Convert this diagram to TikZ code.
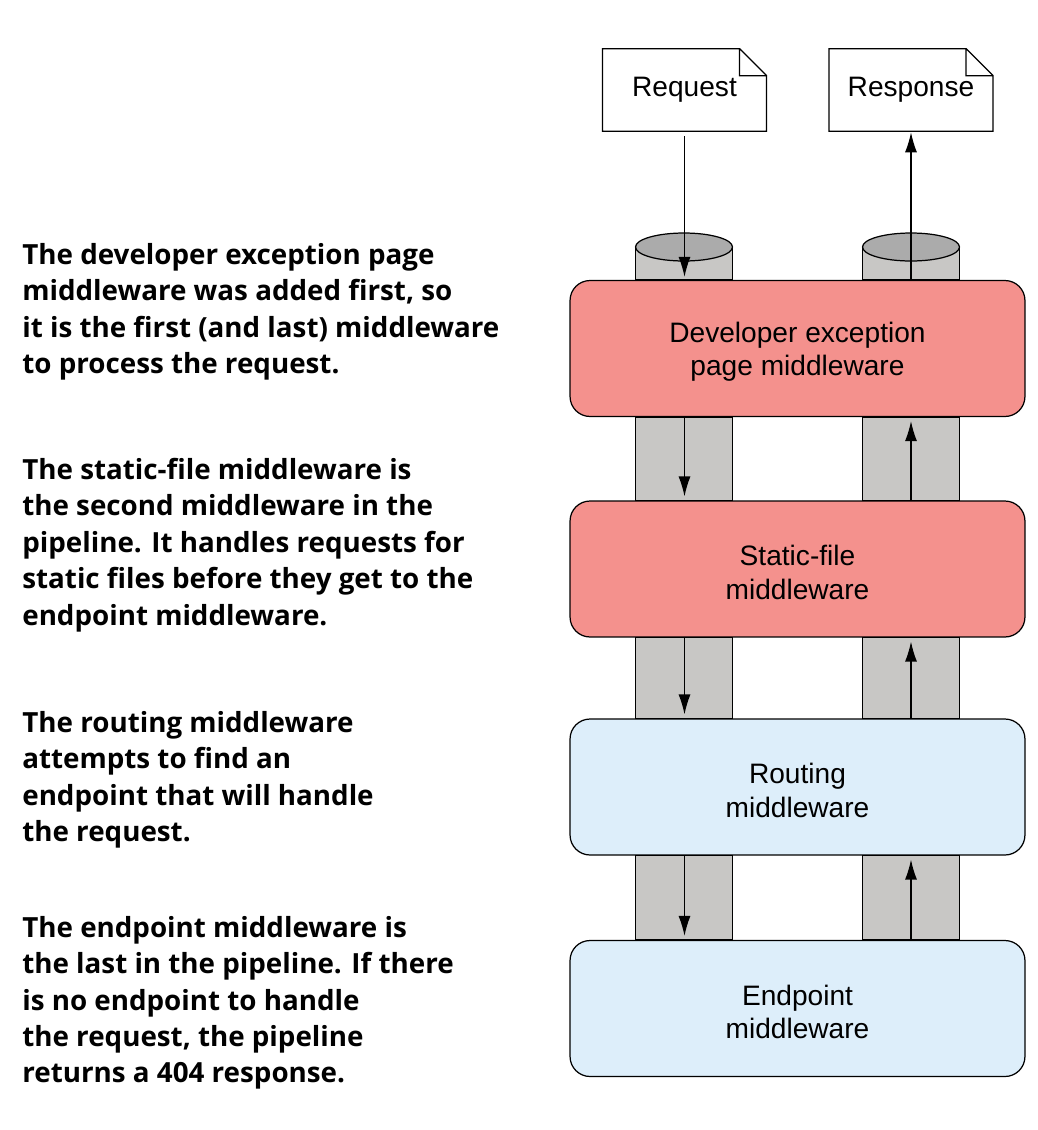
\documentclass[tikz,border=0pt]{standalone}
\usepackage{fontspec}
\setmainfont{Liberation Sans}
\newfontfamily\notefont{Open Sans}
\usetikzlibrary{arrows.meta,backgrounds}
\definecolor{StageRed}{HTML}{F4918D}
\definecolor{StageBlue}{HTML}{DDEEFA}
\definecolor{PipeClr}{HTML}{C8C7C5}
\definecolor{PipeTopClr}{HTML}{ABABAB}

\begin{document}
\begin{tikzpicture}[x=0.02cm,y=-0.02cm,
  stage/.style={draw=black,line width=0.7pt,rounded corners=0.4cm,minimum width=9.1cm,minimum height=2.72cm,align=center,
    font=\fontsize{16}{19}\selectfont,execute at begin node={\rule{0pt}{34.5pt}}},
  doc/.style={minimum width=3.27cm,minimum height=1.64cm,font=\fontsize{16}{19}\selectfont},
  pipe/.style={draw=black,line width=0.7pt,fill=PipeClr},
  flow/.style={line width=0.7pt,-{Latex[length=0.4cm,width=0.24cm]}},
  note/.style={anchor=north west,inner sep=0pt,align=left,font=\notefont\bfseries\fontsize{15.8}{20.7}\selectfont}]

\useasboundingbox (0,0) rectangle (1038,1130);

\node[doc] (req) at (684.5,90) {Request};
\node[doc] (resp) at (911,90) {Response};
\foreach \d in {req,resp}
  \draw[line width=0.7pt] (\d.south west) -- (\d.north west) -- ([xshift=-0.54cm]\d.north east)
    -- ([yshift=-0.54cm]\d.north east) -- (\d.south east) -- cycle
    ([xshift=-0.54cm]\d.north east) |- ([yshift=-0.54cm]\d.north east);

\node[stage,fill=StageRed] (dev) at (797.5,348.5) {Developer exception\\page middleware};
\node[stage,fill=StageRed] (static) at (797.5,569) {Static-file\\middleware};
\node[stage,fill=StageBlue] (routing) at (797.5,787) {Routing\\middleware};
\node[stage,fill=StageBlue] (endpoint) at (797.5,1008.5) {Endpoint\\middleware};

\coordinate (ltop) at (684,247);
\coordinate (rtop) at (911,247);

\begin{scope}[on background layer]
\foreach \t in {ltop,rtop} {
  \draw[pipe] ([xshift=-0.97cm]\t) rectangle ([xshift=0.97cm]\t |- dev.north);
  \draw[pipe,fill=PipeTopClr] (\t) ellipse [x radius=0.97cm,y radius=0.28cm];
  \foreach \a/\b in {dev/static,static/routing,routing/endpoint}
    \draw[pipe] ([xshift=-0.97cm]\t |- \a.south) rectangle ([xshift=0.97cm]\t |- \b.north);
}
\end{scope}

\draw[flow,shorten <=0.1cm,shorten >=0.06cm] (req.south) -- (req.south |- dev.north);
\draw[flow,shorten >=0.02cm] (resp.south |- dev.north) -- (resp.south);
\foreach \a/\b in {dev/static,static/routing,routing/endpoint} {
  \draw[flow,shorten >=0.08cm] (req.south |- \a.south) -- (req.south |- \b.north);
  \draw[flow,shorten >=0.08cm] (resp.south |- \b.north) -- (resp.south |- \a.south);
}

\node[note] (devnote) at (22,243) {The developer exception page\\middleware was added first, so\\it is the first (and last) middleware\\to process the request.};
\node[note] (staticnote) at (22,458) {The static-file middleware is\\the second middleware in the\\pipeline. It handles requests for\\static files before they get to the\\endpoint middleware.};
\node[note] (routingnote) at (22,711) {The routing middleware\\attempts to find an\\endpoint that will handle\\the request.};
\node[note] (endpointnote) at (22,916) {The endpoint middleware is\\the last in the pipeline. If there\\is no endpoint to handle\\the request, the pipeline\\returns a 404 response.};

\end{tikzpicture}
\end{document}
